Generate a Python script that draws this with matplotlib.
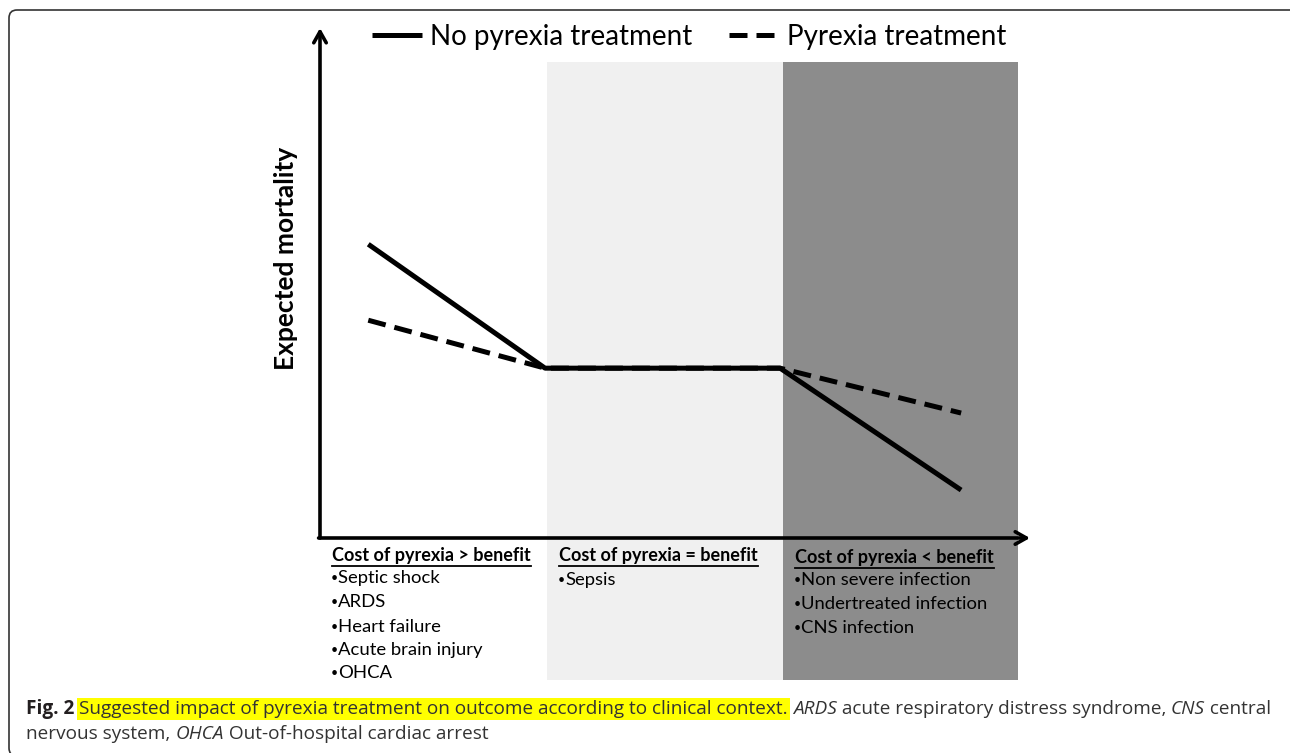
import matplotlib
matplotlib.use("Agg")
import matplotlib.pyplot as plt
from matplotlib.patches import FancyBboxPatch, Rectangle
from matplotlib.lines import Line2D

# ---------------- data ----------------
stage_x = [6.8, 31.7, 64.8, 90.3]            # conceptual clinical-context axis (0-100)
no_treatment = [57.6, 33.3, 33.3, 9.4]        # expected mortality, no pyrexia treatment
treatment = [42.7, 33.3, 33.3, 24.5]          # expected mortality, pyrexia treatment
region_edges = [32.0, 65.2, 98.3]             # light zone start, dark zone start, dark zone end
region_colors = ["#f0f0f0", "#8c8c8c"]
series_labels = ["No pyrexia treatment", "Pyrexia treatment"]
y_label = "Expected mortality"
group_headers = ["Cost of pyrexia > benefit", "Cost of pyrexia = benefit", "Cost of pyrexia < benefit"]
group_items = [
    ["Septic shock", "ARDS", "Heart failure", "Acute brain injury", "OHCA"],
    ["Sepsis"],
    ["Non severe infection", "Undertreated infection", "CNS infection"],
]
caption_line1 = [("Fig. 2 ", "bold", "normal", None),
                 ("Suggested impact of pyrexia treatment on outcome according to clinical context.", "normal", "normal", "#ffff00"),
                 (" ", "normal", "normal", None),
                 ("ARDS", "normal", "italic", None),
                 (" acute respiratory distress syndrome, ", "normal", "normal", None),
                 ("CNS", "normal", "italic", None),
                 (" central", "normal", "normal", None)]
caption_line2 = [("nervous system, ", "normal", "normal", None),
                 ("OHCA", "normal", "italic", None),
                 (" Out-of-hospital cardiac arrest", "normal", "normal", None)]

W, H = 1290, 753
plt.rcParams['font.family'] = ['Lato', 'DejaVu Sans']
fig = plt.figure(figsize=(W / 100, H / 100), dpi=100)

def fx(px):
    return px / W

def fy(py):
    return 1 - py / H

# axes region in pixels: x 320..1030, y 538 (bottom) .. 28 (top)
ax = fig.add_axes([fx(320), fy(538), fx(1030) - fx(320), fy(28) - fy(538)])
ax.set_xlim(0, 100)
ax.set_ylim(0, 100)
ax.axis('off')

# shaded regions (extend below x axis to text area)
ybot = (538 - 680) / 510 * 100
ytop = (538 - 62) / 510 * 100
for i in range(2):
    ax.add_patch(Rectangle((region_edges[i], ybot), region_edges[i + 1] - region_edges[i], ytop - ybot,
                           facecolor=region_colors[i], edgecolor='none', clip_on=False, zorder=0))

# lines
l2, = ax.plot(stage_x, treatment, color='black', lw=3.6, ls=(0, (3.6, 1.8)),
              solid_capstyle='butt', dash_capstyle='butt', zorder=2, clip_on=False, label=series_labels[1])
l1, = ax.plot(stage_x, no_treatment, color='black', lw=3.6, solid_capstyle='butt', zorder=3,
              clip_on=False, label=series_labels[0])

# axis arrows
arrow_kw = dict(arrowstyle='->,head_length=0.8,head_width=0.45', lw=2.6, color='black',
                shrinkA=0, shrinkB=0)
ax.annotate('', xy=(0, 1), xytext=(0, 0), xycoords='axes fraction', arrowprops=arrow_kw)
ax.annotate('', xy=(1, 0), xytext=(-0.002, 0), xycoords='axes fraction', arrowprops=arrow_kw)

# y label
fig.text(fx(286), fy(258), y_label, rotation=90, ha='center', va='center',
         fontsize=19, fontweight='bold', color='black')

# legend
fig.legend(handles=[l1, l2], loc='center left', bbox_to_anchor=(fx(372), fy(37)), ncol=2,
           frameon=False, fontsize=20, handlelength=1.8, handletextpad=0.3, columnspacing=1.3,
           borderpad=0, borderaxespad=0)

# group texts
header_pos = [(332, 555), (559, 555), (795, 557)]
item_pos_y = [[578, 602, 627, 650, 673], [580], [580, 604, 628]]
fig.canvas.draw()
renderer = fig.canvas.get_renderer()
for k, hdr in enumerate(group_headers):
    hx, hy = header_pos[k]
    t = fig.text(fx(hx), fy(hy), hdr, ha='left', va='center', fontsize=13, fontweight='bold', color='black')
    bb = t.get_window_extent(renderer)
    fig.add_artist(Line2D([bb.x0 / W, bb.x1 / W], [fy(hy + 11), fy(hy + 11)], transform=fig.transFigure,
                          color='black', lw=1.3))
    for item, iy in zip(group_items[k], item_pos_y[k]):
        tb = fig.text(fx(hx - 1), fy(iy), "\u2022", ha='left', va='center', fontsize=9, color='black')
        bbb = tb.get_window_extent(renderer)
        fig.text(fx(hx - 1) + bbb.width / W, fy(iy), item, ha='left', va='center', fontsize=13.3,
                 color='black')

# caption
def draw_line(pieces, x0, y0):
    x = x0
    for txt, weight, style, hl in pieces:
        kw = {}
        if hl:
            kw['bbox'] = dict(facecolor=hl, edgecolor='none', pad=1.5)
        t = fig.text(fx(x), fy(y0), txt, ha='left', va='center', fontsize=13.65, fontweight=weight,
                     fontstyle=style, color='#231f20' if weight == 'bold' else '#333333',
                     family=['Open Sans', 'DejaVu Sans'], **kw)
        bb = t.get_window_extent(renderer)
        x += bb.width

draw_line(caption_line1, 26, 709)
draw_line(caption_line2, 26, 734)

# frame border
frame = FancyBboxPatch((9, -3), 1300, 746, boxstyle='round,pad=0,rounding_size=8',
                       transform=None, facecolor='none', edgecolor='#333333', lw=1.2)
fig.add_artist(frame)

fig.savefig('out.png', dpi=100)
